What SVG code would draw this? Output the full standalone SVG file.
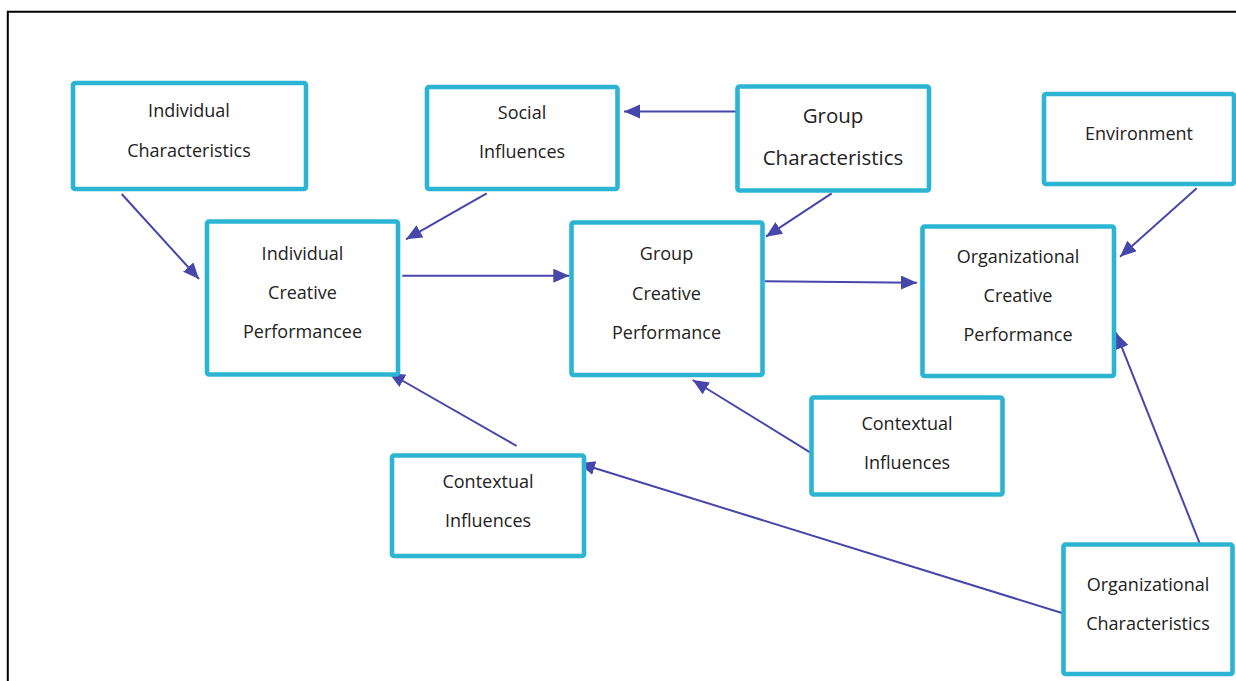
<svg xmlns="http://www.w3.org/2000/svg" width="1236" height="681" viewBox="0 0 1236 681">
  <style>
    .box { fill: #ffffff; stroke: #2bb5d3; stroke-width: 4.6; }
    .lbl { font-family: "Open Sans", "Liberation Sans", sans-serif; font-size: 18px; fill: #222222; text-anchor: middle; }
    .lbl.big { font-size: 20.5px; }
    .edge { stroke: #4646ab; stroke-width: 2; fill: none; marker-end: url(#head); }
  </style>
  <defs>
    <marker id="head" markerUnits="userSpaceOnUse" markerWidth="18" markerHeight="16" refX="16" refY="7" orient="auto">
      <path d="M0,0 L16,7 L0,14 Z" fill="#4646ab"/>
    </marker>
  </defs>

  <rect width="1236" height="681" fill="#ffffff"/>
  <!-- outer frame -->
  <path d="M7.8,690 L7.8,11.7 L1250,11.7" fill="none" stroke="#000000" stroke-width="2"/>

  <g id="connectors">
    <line class="edge" x1="121.7" y1="194" x2="199" y2="279"/>
    <line class="edge" x1="486.7" y1="193.3" x2="406" y2="239.3"/>
    <line class="edge" x1="736.7" y1="111.5" x2="624" y2="111.5"/>
    <line class="edge" x1="831.7" y1="193.3" x2="766" y2="236.7"/>
    <line class="edge" x1="402.3" y1="275.7" x2="569.3" y2="275.7"/>
    <line class="edge" x1="765" y1="281.3" x2="917" y2="282.7"/>
    <line class="edge" x1="1196.7" y1="188.3" x2="1120" y2="256.7"/>
    <line class="edge" x1="516.7" y1="446" x2="389" y2="373"/>
    <line class="edge" x1="811.7" y1="453.3" x2="692.7" y2="380"/>
    <line class="edge" x1="1071.7" y1="616" x2="579" y2="463.3"/>
    <line class="edge" x1="1201" y1="546.7" x2="1116" y2="332.7"/>
  </g>

  <g id="individual-characteristics">
    <rect class="box" x="73" y="83" width="233" height="106" rx="2"/>
    <text class="lbl" x="189" y="117.3">Individual</text>
    <text class="lbl" x="189" y="156.7">Characteristics</text>
  </g>

  <g id="social-influences">
    <rect class="box" x="427" y="87" width="190.5" height="102" rx="2"/>
    <text class="lbl" x="522" y="118.5">Social</text>
    <text class="lbl" x="522" y="157.5">Influences</text>
  </g>

  <g id="group-characteristics">
    <rect class="box" x="737.5" y="86.5" width="191.5" height="104" rx="2"/>
    <text class="lbl big" x="833" y="122.7">Group</text>
    <text class="lbl big" x="833" y="165">Characteristics</text>
  </g>

  <g id="environment">
    <rect class="box" x="1044" y="94" width="190" height="90" rx="2"/>
    <text class="lbl" x="1139" y="140">Environment</text>
  </g>

  <g id="individual-creative-performance">
    <rect class="box" x="207" y="221.5" width="191" height="153" rx="2"/>
    <text class="lbl" x="302.5" y="260">Individual</text>
    <text class="lbl" x="302.5" y="299">Creative</text>
    <text class="lbl" x="302.5" y="338">Performancee</text>
  </g>

  <g id="group-creative-performance">
    <rect class="box" x="571.5" y="222.5" width="191" height="152.5" rx="2"/>
    <text class="lbl" x="666.5" y="260">Group</text>
    <text class="lbl" x="666.5" y="300">Creative</text>
    <text class="lbl" x="666.5" y="339">Performance</text>
  </g>

  <g id="organizational-creative-performance">
    <rect class="box" x="922.5" y="226.5" width="191.5" height="149.5" rx="2"/>
    <text class="lbl" x="1018" y="263">Organizational</text>
    <text class="lbl" x="1018" y="302">Creative</text>
    <text class="lbl" x="1018" y="341">Performance</text>
  </g>

  <g id="contextual-influences-group">
    <rect class="box" x="811.5" y="397.5" width="191" height="97" rx="2"/>
    <text class="lbl" x="907" y="430">Contextual</text>
    <text class="lbl" x="907" y="469">Influences</text>
  </g>

  <g id="contextual-influences-individual">
    <rect class="box" x="392" y="455.5" width="192" height="100.5" rx="2"/>
    <text class="lbl" x="488" y="488">Contextual</text>
    <text class="lbl" x="488" y="527">Influences</text>
  </g>

  <g id="organizational-characteristics">
    <rect class="box" x="1063.5" y="544.5" width="169" height="129.5" rx="2"/>
    <text class="lbl" x="1148" y="591">Organizational</text>
    <text class="lbl" x="1148" y="630">Characteristics</text>
  </g>
</svg>
